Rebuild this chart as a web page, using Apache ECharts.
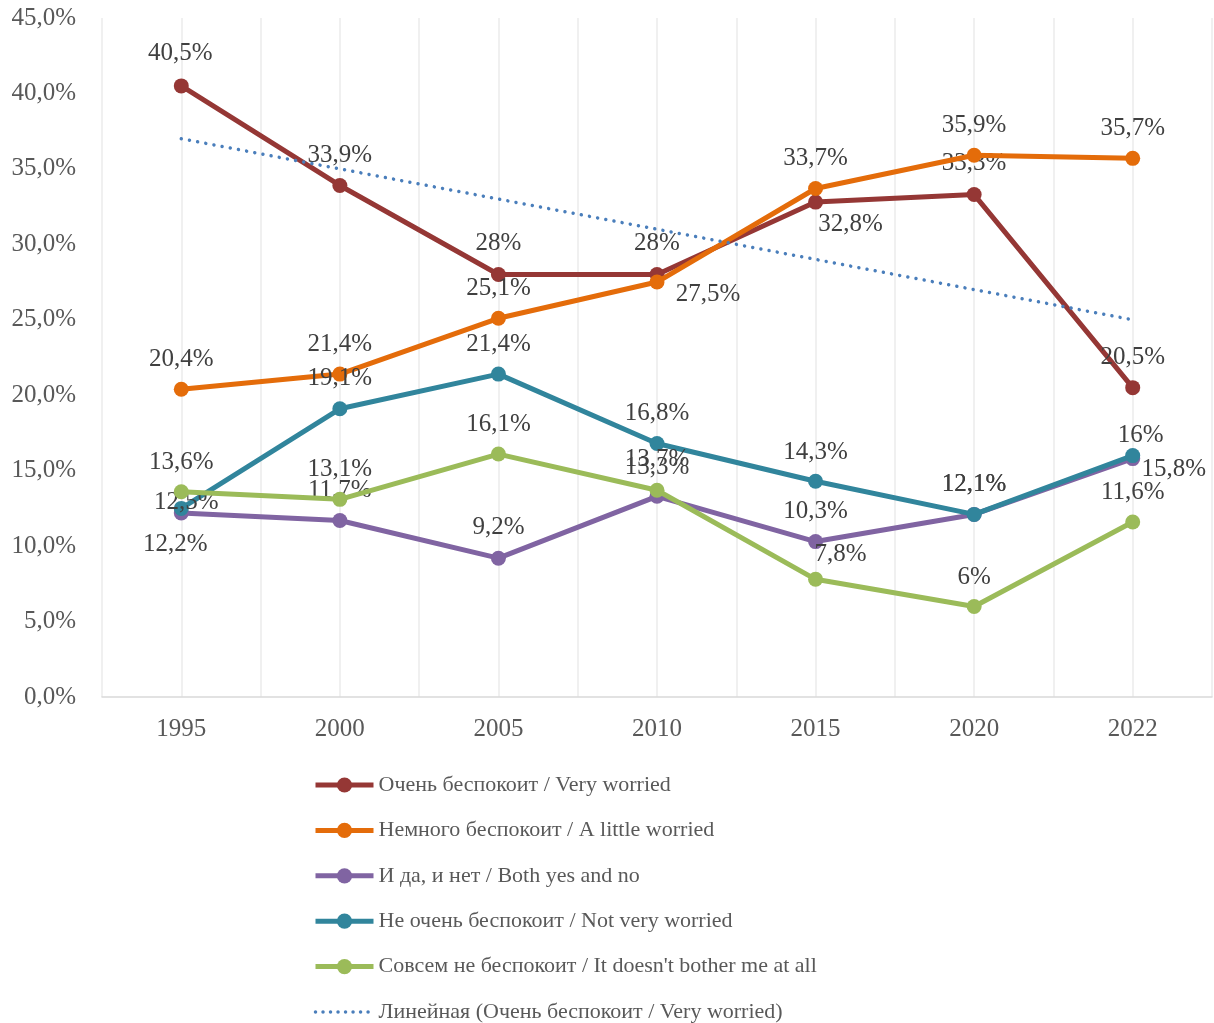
<!DOCTYPE html>
<html>
<head>
<meta charset="utf-8">
<script src="https://cdn.jsdelivr.net/npm/echarts@6/dist/echarts.min.js"></script>
<style>
html,body{margin:0;padding:0;background:#fff;}
#c{width:1214px;height:1023px;}
</style>
</head>
<body>
<div id="c"></div>
<script>
const years = ['1995', '2000', '2005', '2010', '2015', '2020', '2022'];
const veryWorried = [40.5, 33.9, 28, 28, 32.8, 33.3, 20.5];
const littleWorried = [20.4, 21.4, 25.1, 27.5, 33.7, 35.9, 35.7];
const bothYesNo = [12.2, 11.7, 9.2, 13.3, 10.3, 12.1, 15.8];
const notVeryWorried = [12.5, 19.1, 21.4, 16.8, 14.3, 12.1, 16];
const notAtAll = [13.6, 13.1, 16.1, 13.7, 7.8, 6, 11.6];
const trendVeryWorried = [37.0, 35.0, 33.0, 31.0, 29.0, 27.0, 25.0];
const yTicks = [0, 5, 10, 15, 20, 25, 30, 35, 40, 45];

const names = [
  'Очень беспокоит / Very worried',
  'Немного беспокоит / A little worried',
  'И да, и нет / Both yes and no',
  'Не очень беспокоит / Not very worried',
  'Совсем не беспокоит / It doesn\'t bother me at all',
  'Линейная (Очень беспокоит / Very worried)'
];
const colors = ['#953735', '#E46C0A', '#8064A2', '#31859C', '#9BBB59', '#4A7EBB'];

// label offsets (centre of label relative to point), px
const labelOffsets = [
  [[-1,-32],[0,-30],[0,-31],[0,-31],[35,22],[0,-31],[0,-30]],
  [[0,-30],[0,-30],[0,-30],[51,12],[0,-30],[0,-30],[0,-30]],
  [[-6,32],[0,-30],[0,-31],[0,-29],[0,-30],[0,-30],[41,11]],
  [[5,-6],[0,-30],[0,-30],[0,-30],[0,-29],[0,-30],[8,-20]],
  [[0,-29],[0,-30],[0,-30],[0,-31],[25,-25],[0,-29],[0,-30]]
];

const FONT = '"Liberation Serif", "Times New Roman", serif';
const fmt = v => String(v).replace('.', ',') + '%';

const valueSets = [veryWorried, littleWorried, bothYesNo, notVeryWorried, notAtAll];
const series = valueSets.map((vals, si) => ({
  name: names[si],
  type: 'line',
  xAxisIndex: 0,
  yAxisIndex: 0,
  symbol: 'circle',
  symbolSize: 15,
  z: 3 + si,
  itemStyle: { color: colors[si] },
  lineStyle: { color: colors[si], width: 5 },
  label: {
    show: true,
    position: 'inside',
    color: '#404040',
    fontFamily: FONT,
    fontSize: 25,
    textBorderWidth: 0,
    formatter: p => fmt(p.value)
  },
  data: vals.map((v, i) => ({ value: v, label: { offset: labelOffsets[si][i] } }))
}));
series.push({
  name: names[5],
  type: 'line',
  xAxisIndex: 0,
  yAxisIndex: 0,
  symbol: 'none',
  z: 10,
  itemStyle: { color: colors[5] },
  lineStyle: { color: colors[5], width: 3.5, type: [0.01, 8.3], cap: 'round' },
  data: trendVeryWorried
});

const legendData = names.map((n, i) => i < 5
  ? { name: n, lineStyle: { width: 5 } }
  : { name: n, itemStyle: { opacity: 0 }, lineStyle: { width: 3.5, type: [0.01, 7.5], cap: 'round' } });

const chart = echarts.init(document.getElementById('c'), null, { renderer: 'canvas' });
chart.setOption({
  animation: false,
  backgroundColor: '#fff',
  grid: { left: 102, right: 2, top: 18, bottom: 326 },
  xAxis: [
    {
      type: 'category',
      data: years,
      boundaryGap: true,
      axisLine: { lineStyle: { color: '#d9d9d9', width: 1.5 } },
      axisTick: { show: false },
      splitLine: { show: false },
      axisLabel: { color: '#595959', fontFamily: FONT, fontSize: 25, margin: 20 }
    },
    {
      type: 'value',
      min: 0, max: 14, interval: 1,
      show: true,
      axisLine: { show: false },
      axisTick: { show: false },
      axisLabel: { show: false },
      splitLine: { show: true, lineStyle: { color: '#ebebeb', width: 1.5 } }
    }
  ],
  yAxis: {
    type: 'value',
    min: yTicks[0],
    max: yTicks[yTicks.length - 1],
    interval: 5,
    axisLine: { show: false },
    axisTick: { show: false },
    splitLine: { show: false },
    axisLabel: {
      color: '#595959', fontFamily: FONT, fontSize: 25, margin: 26,
      formatter: v => v.toFixed(1).replace('.', ',') + '%'
    }
  },
  legend: {
    orient: 'vertical',
    left: 313,
    top: 773,
    height: 300,
    padding: 0,
    itemWidth: 58,
    itemHeight: 19,
    itemGap: 21.4,
    textStyle: { color: '#595959', fontFamily: FONT, fontSize: 22, lineHeight: 24 },
    data: legendData
  },
  series: series
});
</script>
</body>
</html>
